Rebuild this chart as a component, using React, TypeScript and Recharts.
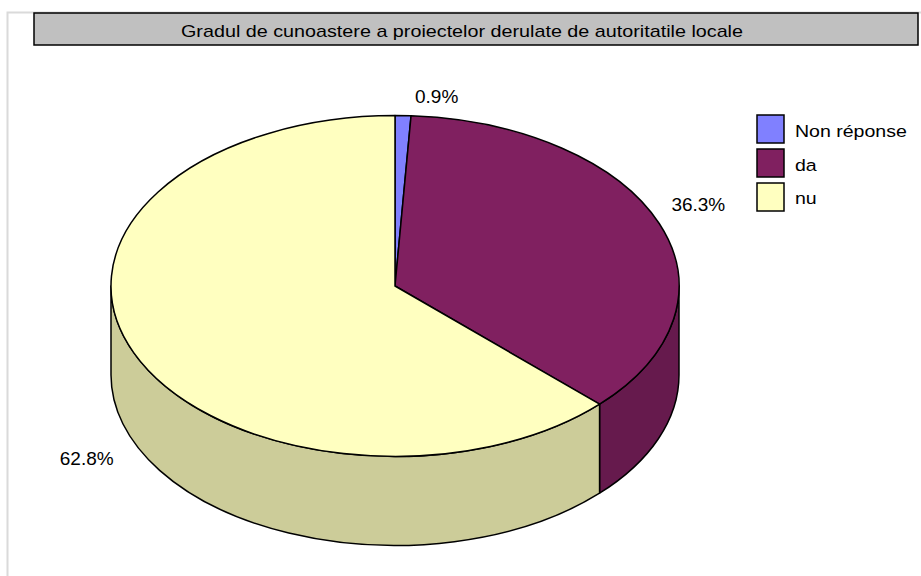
import React from "react";
import { PieChart, Pie, Legend } from "recharts";

const categories = ["Non réponse", "da", "nu"];
const shares = [0.9, 36.3, 62.8];
const pctLabels = ["0.9%", "36.3%", "62.8%"];
const topColors = ["#8080ff", "#802060", "#ffffc0"];
const sideColors = ["#6666cc", "#661a4d", "#cccc99"];
const chartTitle = "Gradul de cunoastere a proiectelor derulate de autoritatile locale";

const data = categories.map((name, i) => ({ name, value: shares[i] }));

const FONT = '"Liberation Sans", Arial, sans-serif';
const TILT = 0.6; // vertical squash of the pie disc
const DEPTH = 89; // thickness of the pie
const RAD = Math.PI / 180;

// draws one slice as a 3D elliptical wedge, using the angles Recharts computed
function renderSlice(props: any) {
  const { cx, cy, outerRadius, startAngle, endAngle, midAngle } = props;
  const name = props.payload?.name ?? props.name;
  const i = categories.indexOf(name);
  const rx = outerRadius;
  const ry = outerRadius * TILT;
  const pt = (a: number, dy = 0) => [cx + rx * Math.cos(a * RAD), cy - ry * Math.sin(a * RAD) + dy];

  const [sx, sy] = pt(startAngle);
  const [ex, ey] = pt(endAngle);
  const large = Math.abs(startAngle - endAngle) > 180 ? 1 : 0;
  const top = `M${cx},${cy} L${sx},${sy} A${rx},${ry} 0 ${large} 1 ${ex},${ey} Z`;

  // side wall only where the rim faces the viewer (lower half)
  const lo = Math.min(startAngle, endAngle);
  const hi = Math.max(startAngle, endAngle);
  const sides: string[] = [];
  for (let k = -1; k <= 1; k++) {
    const a1 = Math.max(lo, -180 + 360 * k);
    const a2 = Math.min(hi, 360 * k);
    if (a2 - a1 > 0.01) {
      const [x1, y1] = pt(a1);
      const [x2, y2] = pt(a2);
      sides.push(
        `M${x1},${y1} A${rx},${ry} 0 0 0 ${x2},${y2} L${x2},${y2 + DEPTH} A${rx},${ry} 0 0 1 ${x1},${y1 + DEPTH} Z`
      );
    }
  }

  const c = Math.cos(midAngle * RAD);
  const s = Math.sin(midAngle * RAD);
  const [mx, my] = pt(midAngle, s < 0 ? DEPTH : 0);
  const lx = c >= 0 ? mx + 12 : mx - 20;
  const ly = s >= 0 ? my - 13 : my + 23;

  return (
    <g key={`slice-${i}`}>
      {sides.map((d, j) => (
        <path key={j} d={d} fill={sideColors[i]} stroke="#000" strokeWidth={1.5} strokeLinejoin="round" />
      ))}
      <path d={top} fill={topColors[i]} stroke="#000" strokeWidth={1.5} strokeLinejoin="round" />
      <text x={lx} y={ly} textAnchor={c >= 0 ? "start" : "end"} fontSize={19} fontFamily={FONT} fill="#000">
        {pctLabels[i]}
      </text>
    </g>
  );
}

function LegendBox() {
  return (
    <svg width={166} height={106} style={{ display: "block" }}>
      {categories.map((name, i) => (
        <g key={name}>
          <rect x={2} y={2 + i * 34} width={27} height={28} fill={topColors[i]} stroke="#000" strokeWidth={1.5} />
          <text
            transform={`translate(40 ${24 + i * 33.5}) scale(1.15 1)`}
            fontSize={17}
            fontFamily={FONT}
            fill="#000"
          >
            {name}
          </text>
        </g>
      ))}
    </svg>
  );
}

export default function App() {
  return (
    <div style={{ position: "absolute", left: 0, top: 0, width: 921, height: 576, overflow: "hidden", background: "#fff" }}>
      <svg width={921} height={576} style={{ position: "absolute", left: 0, top: 0 }}>
        <path d="M7.5,576 V12.5 H921" fill="none" stroke="#dadada" strokeWidth={2} />
        <rect x={34} y={13} width={884} height={32} fill="#c0c0c0" stroke="#000" strokeWidth={1.5} />
        <text
          x={462}
          y={37}
          textAnchor="middle"
          fontSize={17}
          fontFamily={FONT}
          textLength={562}
          lengthAdjust="spacingAndGlyphs"
          fill="#000"
        >
          {chartTitle}
        </text>
      </svg>
      <div style={{ position: "absolute", left: 0, top: 0 }}>
        <PieChart width={921} height={576} margin={{ top: 0, right: 0, bottom: 0, left: 0 }}>
          <Pie
            data={data}
            dataKey="value"
            nameKey="name"
            cx={395}
            cy={286}
            outerRadius={284}
            startAngle={90}
            endAngle={-270}
            fill="transparent"
            stroke="none"
            label={renderSlice}
            labelLine={false}
            isAnimationActive={false}
          />
          <Legend
            layout="vertical"
            align="right"
            verticalAlign="top"
            wrapperStyle={{ left: 755, top: 113, width: 166 }}
            content={() => <LegendBox />}
          />
        </PieChart>
      </div>
    </div>
  );
}
